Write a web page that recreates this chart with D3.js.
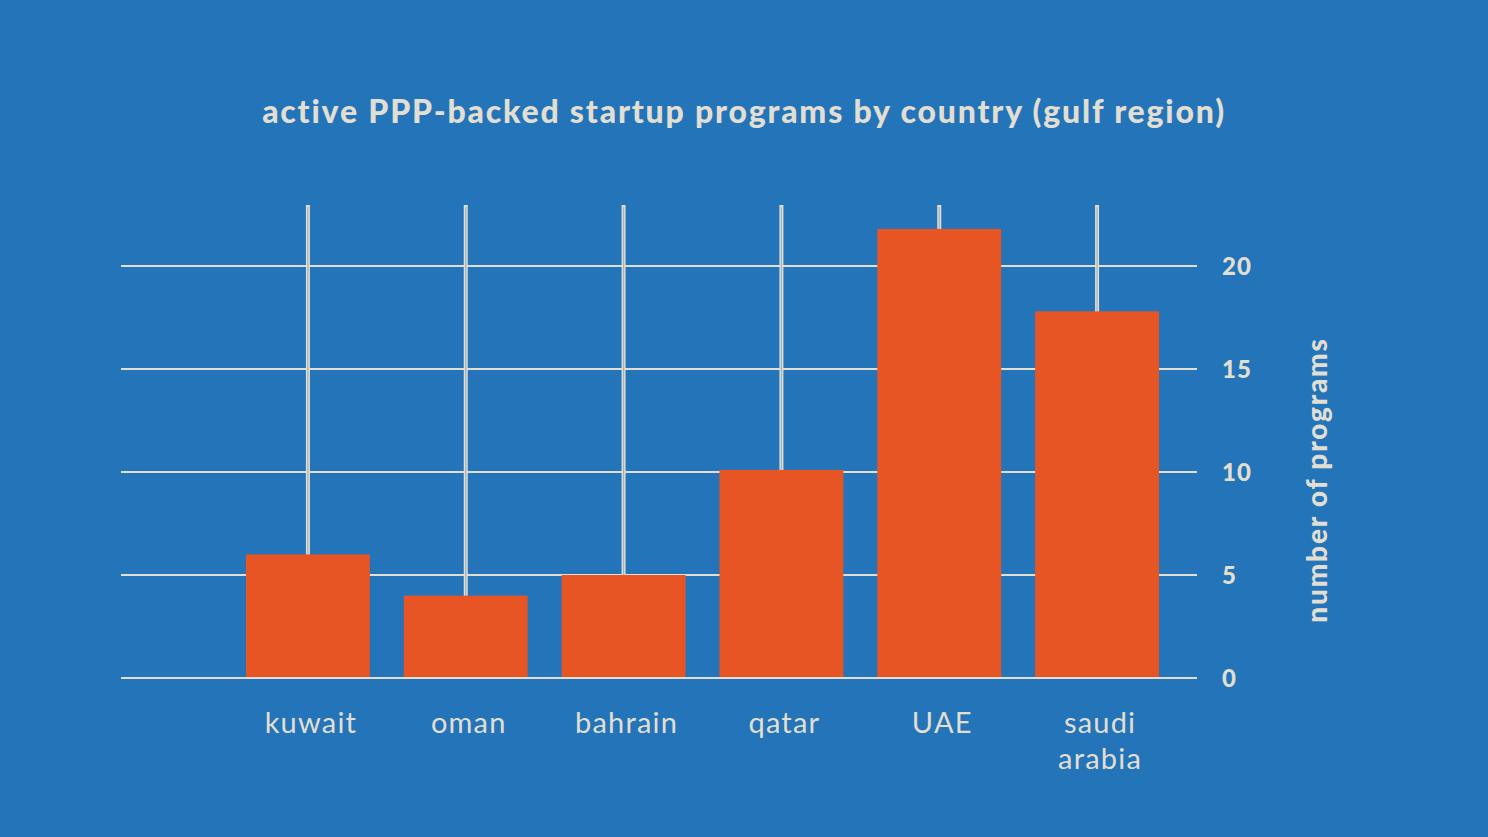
<!DOCTYPE html>
<html>
<head>
<meta charset="utf-8">
<script src="https://cdnjs.cloudflare.com/ajax/libs/d3/7.8.5/d3.min.js"></script>
<style>
  html, body { margin: 0; padding: 0; background: #2374b8; }
  svg { display: block; }
</style>
</head>
<body>
<div id="chart"></div>
<script>
// data
var countries = ["kuwait", "oman", "bahrain", "qatar", "UAE", "saudi arabia"];
var programs = [6, 4, 5, 10.1, 21.8, 17.8];
var yTicks = [0, 5, 10, 15, 20];

var width = 1488, height = 837;
var bg = "#2374b8", barColor = "#e85525", ink = "#e2dfd2";
var font = "Lato, 'Open Sans', sans-serif";

var plot = {left: 121, right: 1197, top: 205, bottom: 678};

var svg = d3.select("#chart").append("svg")
    .attr("width", width)
    .attr("height", height);

svg.append("rect")
    .attr("width", width)
    .attr("height", height)
    .attr("fill", bg);

var x = d3.scaleBand()
    .domain(countries)
    .range([229, 1176])
    .paddingInner(0.215)
    .paddingOuter(0.1075);

// 0 -> 678, 20 -> 266
var y = d3.scaleLinear()
    .domain([0, 20])
    .range([plot.bottom, 266]);

// horizontal grid
svg.append("g")
  .selectAll("line")
  .data(yTicks)
  .enter()
  .append("line")
    .attr("x1", plot.left)
    .attr("x2", plot.right)
    .attr("y1", function(d) { return y(d); })
    .attr("y2", function(d) { return y(d); })
    .attr("stroke", ink)
    .attr("stroke-width", 2);

// vertical lines at each category (double line look)
var vg = svg.append("g");
vg.selectAll("line.outer")
  .data(countries)
  .enter()
  .append("line")
    .attr("class", "outer")
    .attr("x1", function(d) { return x(d) + x.bandwidth() / 2; })
    .attr("x2", function(d) { return x(d) + x.bandwidth() / 2; })
    .attr("y1", plot.top)
    .attr("y2", plot.bottom)
    .attr("stroke", ink)
    .attr("stroke-width", 4);
vg.selectAll("line.inner")
  .data(countries)
  .enter()
  .append("line")
    .attr("class", "inner")
    .attr("x1", function(d) { return x(d) + x.bandwidth() / 2; })
    .attr("x2", function(d) { return x(d) + x.bandwidth() / 2; })
    .attr("y1", plot.top + 2)
    .attr("y2", plot.bottom)
    .attr("stroke", "#9fb2c4")
    .attr("stroke-width", 1.2);

// bars
svg.append("g")
  .selectAll("rect")
  .data(programs)
  .enter()
  .append("rect")
    .attr("x", function(d, i) { return x(countries[i]); })
    .attr("y", function(d) { return y(d); })
    .attr("width", x.bandwidth())
    .attr("height", function(d) { return y(0) - y(d); })
    .attr("fill", barColor);

// baseline redrawn over bars
svg.append("line")
    .attr("x1", plot.left)
    .attr("x2", plot.right)
    .attr("y1", y(0))
    .attr("y2", y(0))
    .attr("stroke", ink)
    .attr("stroke-width", 2);

// y tick labels on the right
svg.append("g")
  .selectAll("text")
  .data(yTicks)
  .enter()
  .append("text")
    .attr("x", 1222)
    .attr("y", function(d) { return y(d); })
    .attr("dy", "0.36em")
    .attr("fill", ink)
    .style("font-family", font)
    .style("font-weight", 900)
    .style("font-size", "24px")
    .style("letter-spacing", "1px")
    .text(function(d) { return d; });

// x labels, wrap two-word names
var xl = svg.append("g")
  .selectAll("text")
  .data(countries)
  .enter()
  .append("text")
    .attr("x", function(d) { return x(d) + x.bandwidth() / 2 + 3; })
    .attr("y", 733)
    .attr("text-anchor", "middle")
    .attr("fill", ink)
    .style("font-family", font)
    .style("font-size", "29px")
    .style("letter-spacing", "1.2px");
xl.each(function(d) {
    var words = d.split(" ");
    var t = d3.select(this);
    var cx = t.attr("x");
    words.forEach(function(w, k) {
        t.append("tspan")
            .attr("x", cx)
            .attr("dy", k == 0 ? 0 : 36)
            .text(w);
    });
});

// title
svg.append("text")
    .attr("x", 744)
    .attr("y", 123)
    .attr("text-anchor", "middle")
    .attr("fill", ink)
    .style("font-family", font)
    .style("font-weight", 900)
    .style("font-size", "32px")
    .style("letter-spacing", "1.8px")
    .text("active PPP-backed startup programs by country (gulf region)");

// y axis title
svg.append("text")
    .attr("transform", "translate(1327,480) rotate(-90)")
    .attr("text-anchor", "middle")
    .attr("fill", ink)
    .style("font-family", font)
    .style("font-weight", 900)
    .style("font-size", "28px")
    .style("letter-spacing", "1.8px")
    .text("number of programs");
</script>
</body>
</html>
